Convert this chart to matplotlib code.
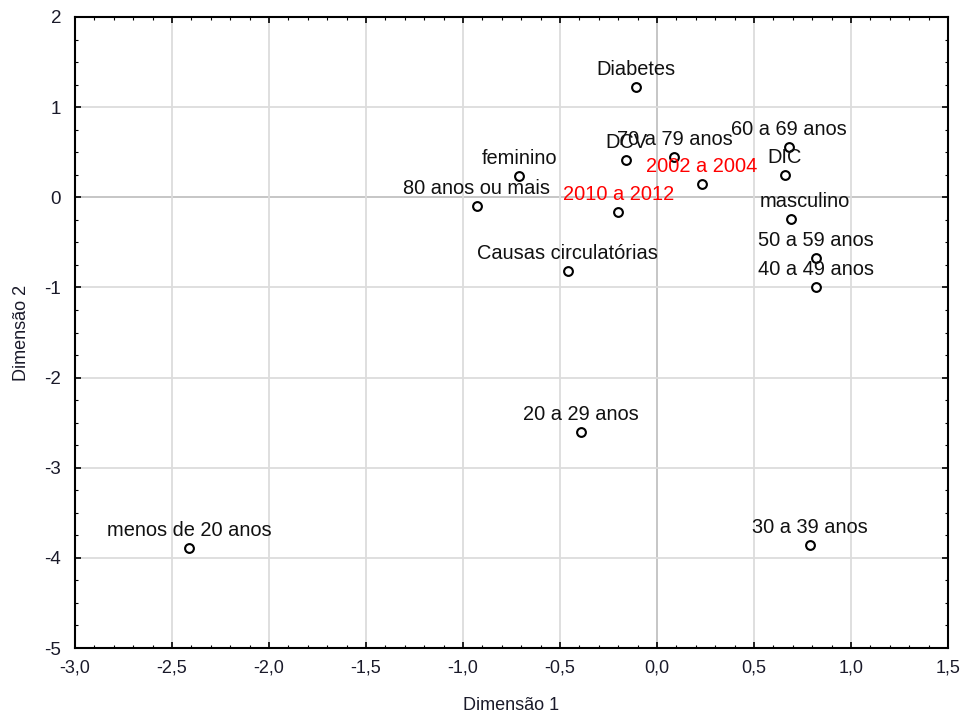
import matplotlib
matplotlib.use("Agg")
import matplotlib.pyplot as plt
from matplotlib.ticker import MultipleLocator, FuncFormatter

labels = ["Diabetes", "DCV", "70 a 79 anos", "2002 a 2004", "60 a 69 anos", "DIC",
          "feminino", "80 anos ou mais", "2010 a 2012", "masculino", "50 a 59 anos",
          "40 a 49 anos", "Causas circulatórias", "20 a 29 anos", "30 a 39 anos",
          "menos de 20 anos"]
dim1 = [-0.11, -0.16, 0.09, 0.23, 0.68, 0.66, -0.71, -0.93, -0.20, 0.69, 0.82,
        0.82, -0.46, -0.39, 0.79, -2.41]
dim2 = [1.22, 0.41, 0.45, 0.15, 0.56, 0.25, 0.24, -0.10, -0.16, -0.24, -0.67,
        -0.99, -0.82, -2.60, -3.86, -3.89]
red_labels = ["2002 a 2004", "2010 a 2012"]
label_dx = {"masculino": 14}

plt.rcParams['font.family'] = ['Liberation Sans', 'DejaVu Sans']

fig = plt.figure(figsize=(9.66, 7.17), dpi=100)
ax = fig.add_axes([0.0776, 0.0962, 0.9038, 0.8801])

ax.set_xlim(-3, 1.5)
ax.set_ylim(-5, 2)
ax.xaxis.set_major_locator(MultipleLocator(0.5))
ax.xaxis.set_minor_locator(MultipleLocator(0.1))
ax.yaxis.set_major_locator(MultipleLocator(1))
ax.yaxis.set_minor_locator(MultipleLocator(0.25))
ax.xaxis.set_major_formatter(FuncFormatter(lambda v, p: f"{v:.1f}".replace(".", ",")))
ax.yaxis.set_major_formatter(FuncFormatter(lambda v, p: f"{v:.0f}"))

ax.grid(True, which='major', color='#dcdcdc', linewidth=1.3, zorder=0)
ax.axhline(0, color='black', linewidth=1.4, zorder=1)
ax.axvline(0, color='black', linewidth=1.4, zorder=1)

ax.tick_params(which='both', direction='in', top=True, right=True, color='black')
ax.tick_params(which='major', length=4, width=1.2)
ax.tick_params(which='minor', length=2.5, width=0.8)
ax.tick_params(axis='x', pad=8, labelsize=13, labelcolor='#1a1a2a')
ax.tick_params(axis='y', pad=10, labelsize=13.5, labelcolor='#1a1a2a')
for s in ax.spines.values():
    s.set_linewidth(1.5)

ax.scatter(dim1, dim2, s=40, facecolors='white', edgecolors='black',
           linewidths=1.5, zorder=3)

for name, x, y in zip(labels, dim1, dim2):
    col = 'red' if name in red_labels else '#111111'
    ax.annotate(name, (x, y), xytext=(label_dx.get(name, 0), 8),
                textcoords='offset pixels', ha='center', va='bottom',
                fontsize=14.4, color=col, zorder=4)

ax.set_xlabel("Dimensão 1", fontsize=13, color='#1a1a2a', labelpad=15)
ax.set_ylabel("Dimensão 2", fontsize=13, color='#1a1a2a', labelpad=10)

fig.savefig("out.png", dpi=100)
